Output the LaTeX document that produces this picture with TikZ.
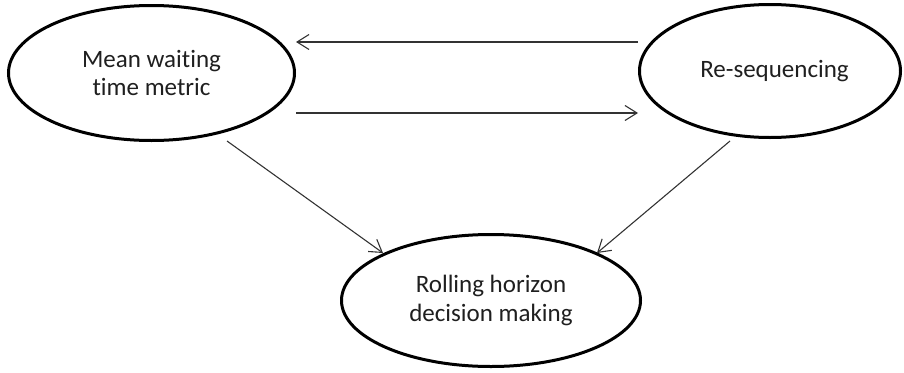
\documentclass[tikz,border=0pt]{standalone}
\usepackage{fontspec}
\setmainfont{Carlito}[Ligatures={NoCommon}]
\usetikzlibrary{shapes.geometric,arrows.meta}
\begin{document}
\begin{tikzpicture}[x=1pt,y=1pt,
  bubble/.style={ellipse, draw=black, line width=3pt, inner sep=0pt,
    align=center, text=black!88, font=\fontsize{25}{28.5}\selectfont},
  link/.style={draw=black!80, line width=1.1pt,
    -{Straight Barb[length=12pt,width=15pt]}}]
  \useasboundingbox (0,0) rectangle (904,-372);

  % the three activities
  \node[bubble, minimum width=286pt, minimum height=135pt]
    (mw) at (151.5,-73) {Mean waiting\\time metric};
  \node[bubble, minimum width=261pt, minimum height=133pt]
    (rs) at (770,-71) {\raisebox{-5pt}{\hspace*{9pt}Re-sequencing}};
  \node[bubble, minimum width=299pt, minimum height=132pt]
    (rh) at (491,-300.5) {Rolling horizon\\decision making};

  % exchange between the metric and the re-sequencing step
  \draw[link] ([yshift=29pt]rs.west) -- ([yshift=29pt]rs.west -| mw.east);
  \draw[link] ([yshift=-40pt]mw.east) -- ([yshift=-40pt]mw.east -| rs.west);

  % both feed the rolling horizon decision
  \draw[link] ([shift={(75.5,-68)}]mw.center) -- ([shift={(-108,47.5)}]rh.center);
  \draw[link] ([shift={(-40,-70)}]rs.center) -- ([shift={(106,47.5)}]rh.center);
\end{tikzpicture}
\end{document}
